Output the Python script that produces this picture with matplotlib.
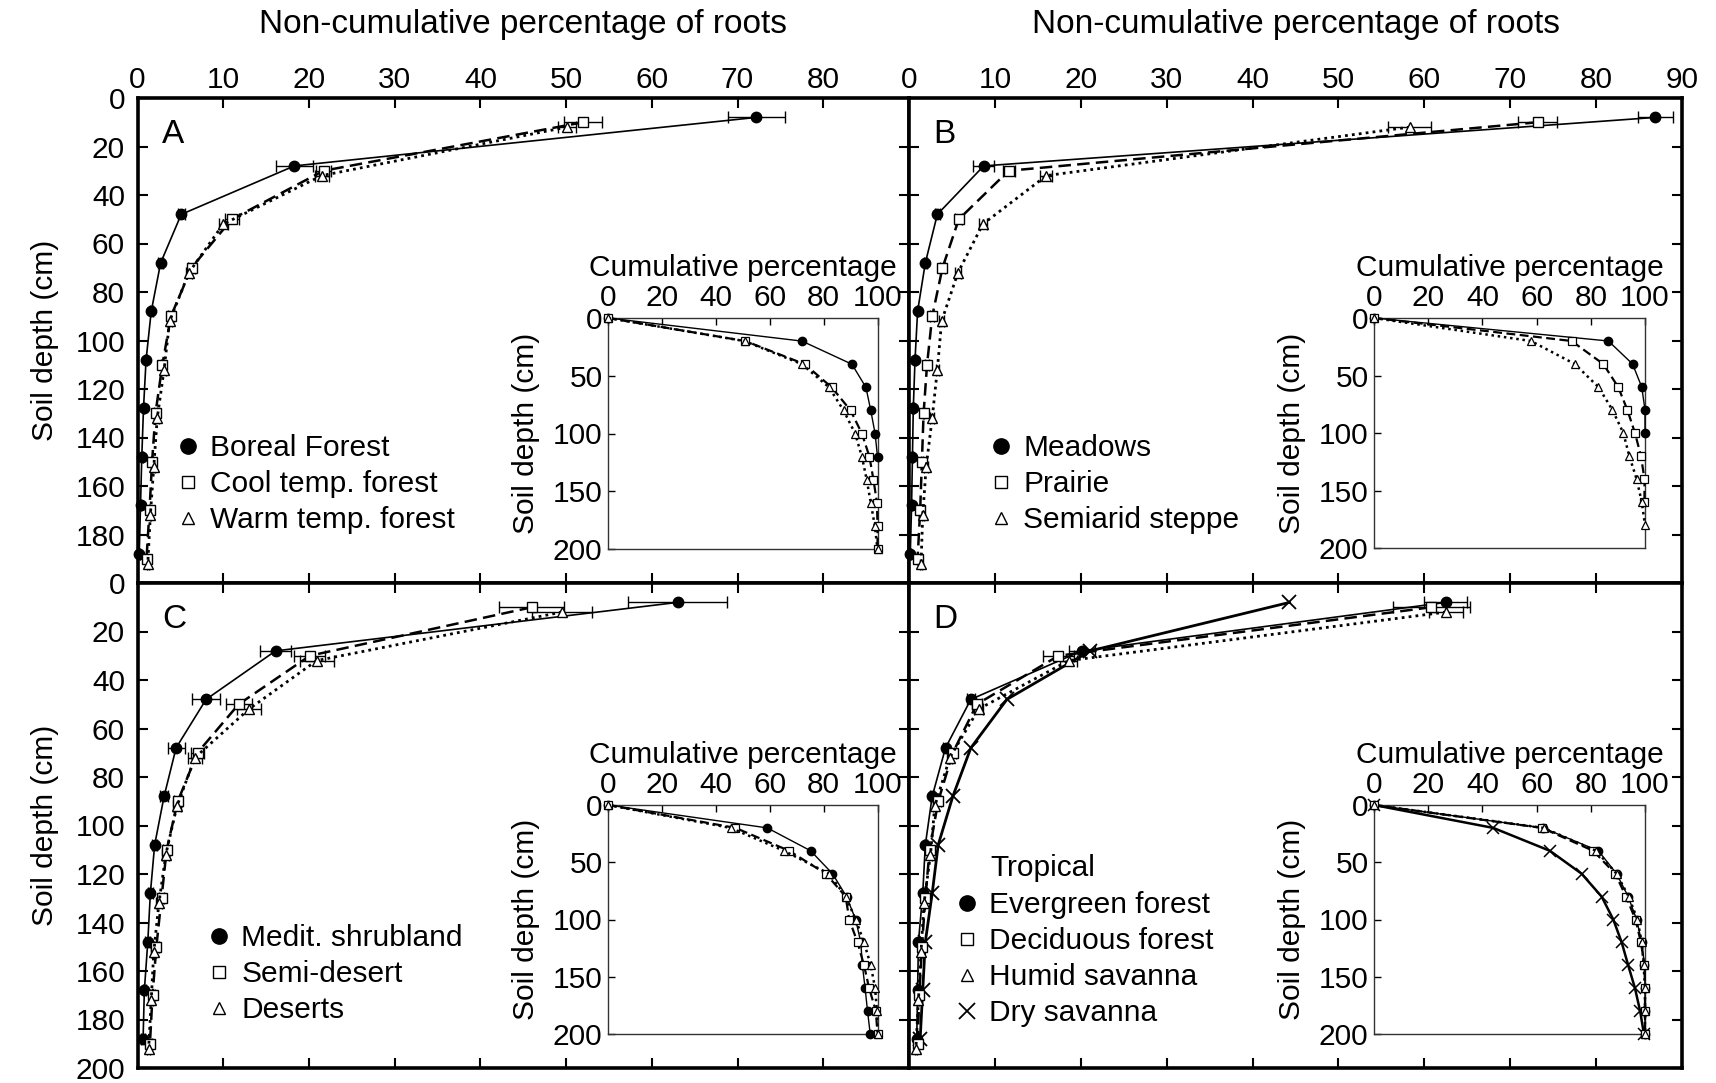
import matplotlib
matplotlib.use("Agg")
import matplotlib.pyplot as plt
from matplotlib.lines import Line2D

plt.rcParams['font.family'] = ['Liberation Sans', 'DejaVu Sans']

# ---------------- data ----------------
depth_circle = [8, 28, 48, 68, 88, 108, 128, 148, 168, 188]
depth_square = [10, 30, 50, 70, 90, 110, 130, 150, 170, 190]
depth_tri = [12, 32, 52, 72, 92, 112, 132, 152, 172, 192]
cum_depth = [0, 20, 40, 60, 80, 100, 120, 140, 160, 180, 200]

# Panel A
A_names = ["Boreal Forest", "Cool temp. forest", "Warm temp. forest"]
A_boreal = [72.2, 18.3, 5.1, 2.7, 1.6, 1.0, 0.7, 0.5, 0.35, 0.2]
A_boreal_err = [3.3, 2.2, 0.4, 0.3, 0.2, 0.1, 0.1, 0.1, 0.1, 0.1]
A_cool = [52.0, 21.7, 11.0, 6.3, 3.9, 2.9, 2.1, 1.7, 1.4, 1.05]
A_cool_err = [2.2, 0.9, 0.8, 0.4, 0.3, 0.2, 0.2, 0.1, 0.1, 0.1]
A_warm = [50.1, 21.5, 10.0, 6.0, 3.75, 3.1, 2.3, 1.9, 1.5, 1.2]
A_warm_err = [1.0, 0.8, 0.5, 0.4, 0.3, 0.2, 0.2, 0.1, 0.1, 0.1]
A_cum_boreal = [0, 72, 90.5, 95.7, 97.5, 99.1, 100]
A_cum_cool = [0, 51, 73, 83, 90, 94.2, 97, 98.5, 99.8, 100, 100]
A_cum_warm = [0, 50.7, 72, 82, 87.4, 91.7, 94.2, 96, 97.5, 99, 100]

# Panel B
B_names = ["Meadows", "Prairie", "Semiarid steppe"]
B_meadows = [86.9, 8.7, 3.3, 1.9, 1.0, 0.7, 0.5, 0.4, 0.3, 0.15]
B_meadows_err = [2.0, 1.2, 0.3, 0.2, 0.1, 0.1, 0.1, 0.1, 0.1, 0.1]
B_prairie = [73.2, 11.6, 5.8, 3.9, 2.7, 2.1, 1.7, 1.5, 1.3, 1.0]
B_prairie_err = [2.3, 0.7, 0.4, 0.3, 0.2, 0.2, 0.1, 0.1, 0.1, 0.1]
B_steppe = [58.3, 16.0, 8.6, 5.7, 3.8, 3.3, 2.7, 2.0, 1.6, 1.4]
B_steppe_err = [2.5, 0.7, 0.5, 0.3, 0.3, 0.2, 0.2, 0.2, 0.1, 0.1]
B_cum_meadows = [0, 86.5, 95.4, 98.8, 100, 100]
B_cum_prairie = [0, 72.9, 84.6, 90.1, 93.5, 96.3, 98.5, 99.8, 99.8]
B_cum_steppe = [0, 57.9, 74.1, 82.8, 88, 92, 94.2, 96.9, 98.8, 100]

# Panel C
C_names = ["Medit. shrubland", "Semi-desert", "Deserts"]
C_medit = [63.0, 16.1, 8.0, 4.5, 3.1, 2.0, 1.5, 1.2, 0.8, 0.65]
C_medit_err = [5.8, 1.8, 1.6, 1.0, 0.5, 0.3, 0.3, 0.3, 0.2, 0.2]
C_semi = [46.0, 20.1, 11.8, 7.0, 4.7, 3.4, 2.8, 2.2, 1.75, 1.45]
C_semi_err = [3.8, 1.8, 1.5, 0.8, 0.5, 0.4, 0.3, 0.3, 0.3, 0.2]
C_deserts = [49.5, 20.9, 13.0, 6.7, 4.6, 3.3, 2.5, 1.9, 1.6, 1.3]
C_deserts_err = [3.5, 2.0, 1.4, 0.8, 0.5, 0.4, 0.3, 0.3, 0.2, 0.2]
C_cum_medit = [0, 59.1, 75.2, 83.3, 88.5, 91.9, 93.8, 94.4, 95.4, 96.3, 97.3]
C_cum_semi = [0, 47.3, 67.2, 80.8, 88.2, 89.5, 92.6, 95, 96.9, 99.4, 100]
C_cum_deserts = [0, 45.5, 65.3, 82, 88.2, 91.9, 95, 97.5, 99.1, 99.8, 100]

# Panel D
D_title = "Tropical"
D_names = ["Evergreen forest", "Deciduous forest", "Humid savanna", "Dry savanna"]
D_evergreen = [62.5, 20.1, 7.2, 4.25, 2.7, 1.9, 1.6, 1.1, 1.0, 0.9]
D_evergreen_err = [2.5, 1.5, 0.5, 0.3, 0.2, 0.2, 0.1, 0.1, 0.1, 0.1]
D_deciduous = [60.8, 17.4, 7.9, 5.1, 3.4, 2.4, 1.9, 1.5, 1.2, 1.0]
D_deciduous_err = [4.5, 1.8, 0.6, 0.4, 0.3, 0.2, 0.2, 0.1, 0.1, 0.1]
D_humid = [62.5, 18.6, 8.1, 4.75, 3.0, 2.5, 1.75, 1.4, 1.1, 0.8]
D_humid_err = [2.0, 1.0, 0.5, 0.3, 0.2, 0.2, 0.1, 0.1, 0.1, 0.1]
D_dry = [44.3, 21.1, 11.4, 7.2, 5.1, 3.4, 2.7, 1.9, 1.6, 1.3]
D_cum_evergreen = [0, 62.4, 82.8, 89.5, 93.8, 96.9, 98.8, 99.8, 100, 100, 100]
D_cum_deciduous = [0, 62.0, 80.9, 89.0, 93.0, 96.5, 98.5, 99.8, 100, 100, 100]
D_cum_humid = [0, 62.6, 82.0, 89.5, 94.0, 97.2, 98.8, 99.5, 100, 100, 100]
D_cum_dry = [0, 44, 64.9, 76.6, 84, 88.3, 91.4, 93.8, 96.3, 98.2, 99.6]

main_xticks = list(range(0, 100, 10))
main_yticks = list(range(0, 220, 20))
cum_xticks = [0, 20, 40, 60, 80, 100]
cum_yticks = [0, 50, 100, 150, 200]

# ---------------- styles ----------------
FS = 21.5
W, H = 1716, 1083
STY = {
    'circle': dict(marker='o', ms=7.5, mfc='k', mec='k', color='k', lw=1.2, ls='-'),
    'square': dict(marker='s', ms=6.5, mfc='white', mec='k', mew=1.0, color='k', lw=1.8, dashes=(5, 2.5)),
    'tri': dict(marker='^', ms=6.5, mfc='white', mec='k', mew=1.0, color='k', lw=2.0, dashes=(1, 1.5)),
    'x': dict(marker='x', ms=10, mec='k', mew=1.3, color='k', lw=2.0, ls='-'),
}
INSTY = {
    'circle': dict(marker='o', ms=6, mfc='k', mec='k', color='k', lw=1.0, ls='-'),
    'square': dict(marker='s', ms=6, mfc='white', mec='k', mew=0.9, color='k', lw=1.6, dashes=(4, 2)),
    'tri': dict(marker='^', ms=6, mfc='white', mec='k', mew=0.9, color='k', lw=1.8, dashes=(1, 1.5)),
    'x': dict(marker='x', ms=8.5, mec='k', mew=1.1, color='k', lw=1.8, ls='-'),
}
LEGSTY = {
    'circle': dict(marker='o', ms=11, mfc='k', mec='k', ls='none'),
    'square': dict(marker='s', ms=9, mfc='white', mec='k', mew=1.0, ls='none'),
    'tri': dict(marker='^', ms=9, mfc='white', mec='k', mew=1.0, ls='none'),
    'x': dict(marker='x', ms=12, mec='k', mew=1.3, ls='none'),
}
DEPTH = {'circle': depth_circle, 'square': depth_square, 'tri': depth_tri, 'x': depth_circle}

fig = plt.figure(figsize=(W / 100, H / 100), dpi=100)


def fx(px):
    return px / W


def fy(py):
    return 1 - py / H


xL, xM, xR = 137.5, 909, 1682
yT, yM, yB = 98, 583, 1068
ax_pos = {
    'A': [fx(xL), fy(yM), fx(xM - xL), (yM - yT) / H],
    'B': [fx(xM), fy(yM), fx(xR - xM), (yM - yT) / H],
    'C': [fx(xL), fy(yB), fx(xM - xL), (yB - yM) / H],
    'D': [fx(xM), fy(yB), fx(xR - xM), (yB - yM) / H],
}
in_pos = {
    'A': [fx(608), fy(549), fx(877.5 - 608), (549 - 318) / H],
    'B': [fx(1374), fy(548), fx(1645 - 1374), (548 - 318) / H],
    'C': [fx(608), fy(1034), fx(877.5 - 608), (1034 - 805) / H],
    'D': [fx(1374), fy(1034), fx(1645 - 1374), (1034 - 805) / H],
}

panels = {
    'A': dict(series=[('circle', A_boreal, A_boreal_err), ('square', A_cool, A_cool_err), ('tri', A_warm, A_warm_err)],
              cum=[('circle', A_cum_boreal), ('square', A_cum_cool), ('tri', A_cum_warm)], names=A_names),
    'B': dict(series=[('circle', B_meadows, B_meadows_err), ('square', B_prairie, B_prairie_err), ('tri', B_steppe, B_steppe_err)],
              cum=[('circle', B_cum_meadows), ('square', B_cum_prairie), ('tri', B_cum_steppe)], names=B_names),
    'C': dict(series=[('circle', C_medit, C_medit_err), ('square', C_semi, C_semi_err), ('tri', C_deserts, C_deserts_err)],
              cum=[('circle', C_cum_medit), ('square', C_cum_semi), ('tri', C_cum_deserts)], names=C_names),
    'D': dict(series=[('x', D_dry, None), ('circle', D_evergreen, D_evergreen_err), ('square', D_deciduous, D_deciduous_err), ('tri', D_humid, D_humid_err)],
              cum=[('x', D_cum_dry), ('circle', D_cum_evergreen), ('square', D_cum_deciduous), ('tri', D_cum_humid)], names=D_names),
}

leg_anchor = {'A': (179, 434), 'B': (992, 434), 'C': (210, 924), 'D': (958, 891)}

for key in ['A', 'B', 'C', 'D']:
    p = panels[key]
    ax = fig.add_axes(ax_pos[key])
    for kind, vals, err in p['series']:
        st = STY[kind]
        ax.errorbar(vals, DEPTH[kind], xerr=err, capsize=4, elinewidth=1.0, ecolor='k',
                    capthick=1.0, clip_on=False, zorder=3, **st)
    ax.set_xlim(0, 90)
    ax.set_ylim(200, 0)
    ax.set_xticks(main_xticks)
    ax.set_yticks(main_yticks)
    for s in ax.spines.values():
        s.set_linewidth(2.6)
    ax.tick_params(direction='in', length=7, width=1.5, top=True, bottom=True, left=True, right=True,
                   labelsize=FS)
    ax.tick_params(axis='y', pad=9)
    ax.tick_params(axis='x', pad=3)
    top = key in ('A', 'B')
    left = key in ('A', 'C')
    ax.tick_params(labeltop=top, labelbottom=False, labelleft=left, labelright=False)
    if top:
        ax.xaxis.set_label_position('top')
        ax.set_xlabel('Non-cumulative percentage of roots', fontsize=24, labelpad=24)
        if key == 'A':
            ax.set_xticklabels([str(t) if t < 90 else '' for t in main_xticks])
    if left:
        ax.set_ylabel('Soil depth (cm)', fontsize=FS, labelpad=12)
        if key == 'A':
            ax.set_yticklabels([str(t) if t < 200 else '' for t in main_yticks])
    ax.text(0.032, 0.925, key, transform=ax.transAxes, fontsize=24, ha='left', va='center')

    # legend
    kinds = [s[0] for s in p['series']]
    if key == 'D':
        kinds = ['circle', 'square', 'tri', 'x']
    handles = [Line2D([], [], **LEGSTY[k]) for k in kinds]
    lx, ly = leg_anchor[key]
    ax.legend(handles, p['names'], loc='upper left', bbox_to_anchor=(fx(lx), fy(ly)),
              bbox_transform=fig.transFigure, frameon=False, fontsize=FS, handlelength=0.6,
              handletextpad=0.45, labelspacing=0.27, borderpad=0, borderaxespad=0)
    if key == 'D':
        fig.text(fx(990), fy(868), D_title, fontsize=FS, ha='left', va='center')

    # inset
    ai = fig.add_axes(in_pos[key])
    for kind, vals in p['cum']:
        ai.plot(vals, cum_depth[:len(vals)], clip_on=False, zorder=3, **INSTY[kind])
    ai.set_xlim(0, 100)
    ai.set_ylim(200, 0)
    ai.set_xticks(cum_xticks)
    ai.set_yticks(cum_yticks)
    for s in ai.spines.values():
        s.set_linewidth(1.0)
        s.set_color('#333333')
    ai.tick_params(direction='in', length=5, width=1.0, top=True, bottom=False, left=True, right=False,
                   labeltop=True, labelbottom=False, labelsize=FS, pad=4)
    ai.xaxis.set_label_position('top')
    ai.set_xlabel('Cumulative percentage', fontsize=FS, labelpad=6)
    ai.set_ylabel('Soil depth (cm)', fontsize=FS, labelpad=9)

fig.savefig('out.png', dpi=100)
